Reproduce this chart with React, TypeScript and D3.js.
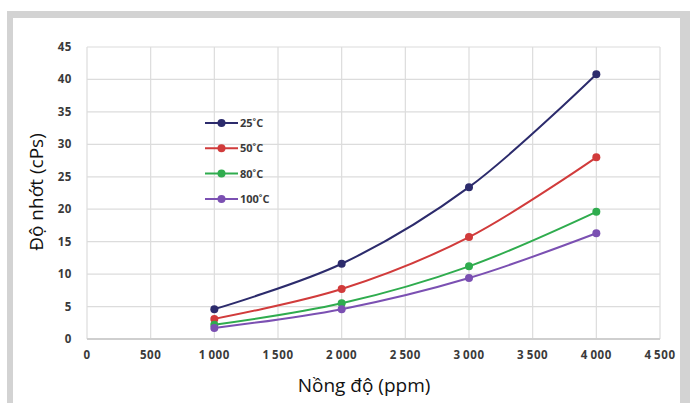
import React, { useEffect, useRef } from "react";
import * as d3 from "d3";

// concentration (ppm)
const concentrations = [1000, 2000, 3000, 4000];

// viscosity (cPs) per temperature
const visc25 = [4.6, 11.6, 23.4, 40.8];
const visc50 = [3.1, 7.7, 15.7, 28.0];
const visc80 = [2.2, 5.5, 11.2, 19.6];
const visc100 = [1.7, 4.6, 9.4, 16.3];

const seriesNames = ["25˚C", "50˚C", "80˚C", "100˚C"];
const seriesColors = ["#2c2b6c", "#d13b3b", "#2fac4e", "#7b50b2"];

const xTicks = [0, 500, 1000, 1500, 2000, 2500, 3000, 3500, 4000, 4500];
const yTicks = [0, 5, 10, 15, 20, 25, 30, 35, 40, 45];

const App = () => {
  const ref = useRef<SVGSVGElement | null>(null);

  useEffect(() => {
    const svg = d3.select(ref.current);
    svg.selectAll("*").remove();

    const W = 690;
    const H = 403;

    // frame
    svg.append("rect").attr("x", 7).attr("y", 11).attr("width", W).attr("height", H).attr("fill", "#d3d3d3");
    svg.append("rect").attr("x", 13).attr("y", 18).attr("width", 667).attr("height", H).attr("fill", "#ffffff");

    const x = d3.scaleLinear().domain([0, 4500]).range([87, 660]);
    const y = d3.scaleLinear().domain([0, 45]).range([339, 47]);

    // grid
    const grid = svg.append("g");
    grid
      .selectAll(".vg")
      .data(xTicks)
      .enter()
      .append("line")
      .attr("x1", (d) => x(d))
      .attr("x2", (d) => x(d))
      .attr("y1", y(45))
      .attr("y2", y(0))
      .attr("stroke", "#dcdcdc")
      .attr("stroke-width", 1.2);
    grid
      .selectAll(".hg")
      .data(yTicks)
      .enter()
      .append("line")
      .attr("x1", x(0))
      .attr("x2", x(4500))
      .attr("y1", (d) => y(d))
      .attr("y2", (d) => y(d))
      .attr("stroke", (d) => (d === 0 ? "#cfcfcf" : "#dcdcdc"))
      .attr("stroke-width", (d) => (d === 0 ? 2 : 1.2));

    const tickStyle = (sel: any) =>
      sel
        .style("font-family", "Open Sans")
        .style("font-size", "11.5px")
        .style("font-weight", "bold")
        .style("letter-spacing", "0.6px")
        .attr("fill", "#3a3a3a");

    // tick labels
    svg
      .append("g")
      .selectAll("text")
      .data(xTicks)
      .enter()
      .append("text")
      .attr("x", (d) => x(d))
      .attr("y", 359)
      .attr("text-anchor", "middle")
      .call(tickStyle)
      .text((d) => (d >= 1000 ? d3.format(",")(d).replace(",", "\u2009") : String(d)));

    svg
      .append("g")
      .selectAll("text")
      .data(yTicks)
      .enter()
      .append("text")
      .attr("x", 72)
      .attr("y", (d) => y(d) + 4)
      .attr("text-anchor", "end")
      .call(tickStyle)
      .text((d) => String(d));

    // axis titles
    svg
      .append("text")
      .attr("x", 364)
      .attr("y", 392)
      .attr("text-anchor", "middle")
      .style("font-family", "Open Sans")
      .style("font-size", "19px")
      .attr("fill", "#111")
      .text("Nồng độ (ppm)");

    svg
      .append("text")
      .attr("transform", `translate(43,192) rotate(-90)`)
      .attr("text-anchor", "middle")
      .style("font-family", "Open Sans")
      .style("font-size", "19px")
      .attr("fill", "#111")
      .text("Độ nhớt (cPs)");

    // series
    const allSeries = [visc25, visc50, visc80, visc100];
    const line = d3
      .line<number>()
      .x((d, i) => x(concentrations[i]))
      .y((d) => y(d))
      .curve(d3.curveCatmullRom.alpha(0.5));

    allSeries.forEach((vals, k) => {
      svg
        .append("path")
        .datum(vals)
        .attr("fill", "none")
        .attr("stroke", seriesColors[k])
        .attr("stroke-width", 2)
        .attr("d", line);
      svg
        .append("g")
        .selectAll("circle")
        .data(vals)
        .enter()
        .append("circle")
        .attr("cx", (d, i) => x(concentrations[i]))
        .attr("cy", (d) => y(d))
        .attr("r", 4)
        .attr("fill", seriesColors[k]);
    });

    // legend
    const legend = svg
      .selectAll(".legend")
      .data(seriesNames)
      .enter()
      .append("g")
      .attr("class", "legend")
      .attr("transform", (d, i) => `translate(205,${123 + i * 25.3})`);

    legend
      .append("line")
      .attr("x1", 0)
      .attr("x2", 33)
      .attr("stroke", (d, i) => seriesColors[i])
      .attr("stroke-width", 2);
    legend
      .append("circle")
      .attr("cx", 16.5)
      .attr("r", 4)
      .attr("fill", (d, i) => seriesColors[i]);
    legend
      .append("text")
      .attr("x", 35)
      .attr("y", 4)
      .style("font-family", "Open Sans")
      .style("font-size", "11px")
      .style("font-weight", "bold")
      .attr("fill", "#3a3a3a")
      .text((d) => d);
  }, []);

  return (
    <svg
      ref={ref}
      width={690}
      height={403}
      style={{ position: "fixed", left: 0, top: 0, background: "#fff" }}
    />
  );
};

export default App;
